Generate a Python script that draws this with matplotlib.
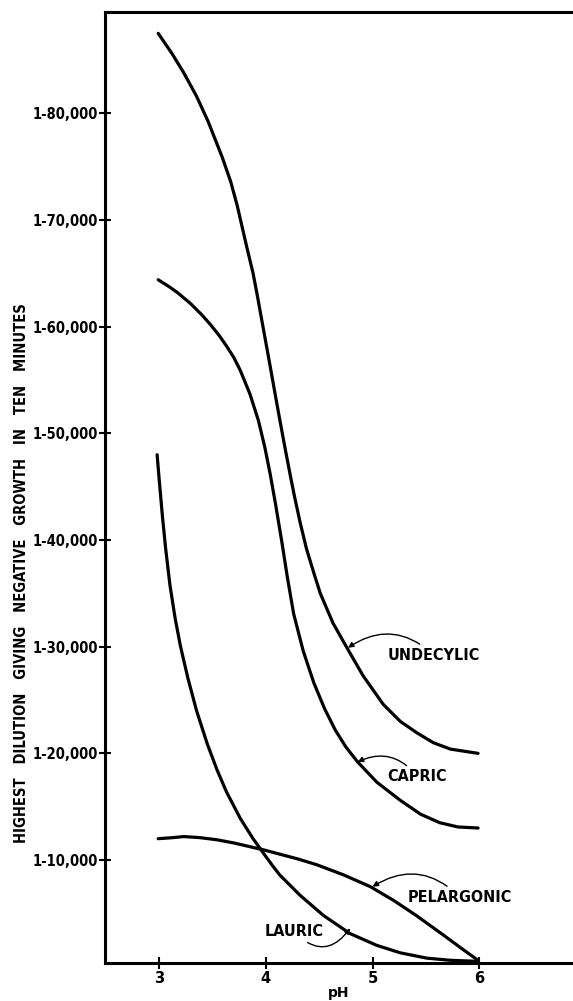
import matplotlib
matplotlib.use("Agg")
import matplotlib.pyplot as plt

plt.rcParams["font.family"] = ["DejaVu Sans"]

# ---- data (pH vs highest dilution, in units of 1,000) ----
undecylic_ph = [2.99, 3.12, 3.23, 3.35, 3.46, 3.59, 3.67, 3.73, 3.82, 3.88, 3.92, 3.98, 4.04, 4.09, 4.13,
                4.18, 4.23, 4.27, 4.32, 4.38, 4.45, 4.51, 4.63, 4.76, 4.91, 5.10, 5.26, 5.42, 5.57, 5.73, 5.99]
undecylic_k = [87.5, 85.6, 83.8, 81.6, 79.2, 75.9, 73.6, 71.4, 67.5, 65.0, 62.9, 59.6, 56.3, 53.5, 51.3,
               48.6, 46.0, 44.0, 41.7, 39.2, 36.9, 35.0, 32.2, 29.9, 27.3, 24.6, 23.0, 21.9, 21.0, 20.4, 20.0]

capric_ph = [2.99, 3.10, 3.17, 3.29, 3.40, 3.48, 3.56, 3.63, 3.70, 3.76, 3.85, 3.93, 3.99, 4.04, 4.09,
             4.15, 4.20, 4.26, 4.35, 4.45, 4.55, 4.65, 4.75, 4.86, 5.04, 5.26, 5.45, 5.63, 5.80, 5.99]
capric_k = [64.4, 63.7, 63.2, 62.2, 61.1, 60.2, 59.2, 58.2, 57.1, 55.9, 53.7, 51.2, 48.7, 46.2, 43.4,
            39.8, 36.6, 33.1, 29.6, 26.6, 24.2, 22.2, 20.6, 19.2, 17.3, 15.6, 14.3, 13.5, 13.1, 13.0]

lauric_ph = [2.98, 3.00, 3.03, 3.06, 3.10, 3.15, 3.20, 3.27, 3.35, 3.45, 3.54, 3.63, 3.76, 3.88,
             3.98, 4.06, 4.13, 4.32, 4.54, 4.79, 5.04, 5.26, 5.51, 5.73, 5.99]
lauric_k = [48.0, 45.6, 42.2, 39.2, 35.8, 32.6, 30.0, 27.0, 24.0, 20.9, 18.5, 16.4, 13.9, 12.0,
            10.6, 9.5, 8.6, 6.7, 4.8, 3.1, 2.0, 1.3, 0.8, 0.6, 0.5]

pelargonic_ph = [2.99, 3.13, 3.23, 3.38, 3.54, 3.70, 3.85, 3.98, 4.13, 4.30, 4.48, 4.73, 4.98,
                 5.20, 5.41, 5.66, 5.85, 5.99]
pelargonic_k = [12.0, 12.1, 12.2, 12.1, 11.9, 11.6, 11.25, 10.95, 10.55, 10.1, 9.55, 8.6, 7.5,
                6.2, 4.8, 3.0, 1.6, 0.6]

x_ticks = [3, 4, 5, 6]
y_ticks = [10000, 20000, 30000, 40000, 50000, 60000, 70000, 80000]
y_tick_labels = ["1-10,000", "1-20,000", "1-30,000", "1-40,000",
                 "1-50,000", "1-60,000", "1-70,000", "1-80,000"]

fig = plt.figure(figsize=(5.73, 10.01), dpi=100)
ax = fig.add_axes([0.183, 0.038, 0.817, 0.950])

series = [(undecylic_ph, undecylic_k), (capric_ph, capric_k),
          (lauric_ph, lauric_k), (pelargonic_ph, pelargonic_k)]
for xs, ks in series:
    ax.plot(xs, [k * 1000 for k in ks], color="black", lw=2.3,
            solid_capstyle="round", solid_joinstyle="round")

ax.set_xlim(2.49, 6.88)
ax.set_ylim(350, 89500)
ax.set_xticks(x_ticks)
ax.set_xticklabels([str(t) for t in x_ticks], fontsize=10.5, fontweight="bold")
ax.set_yticks(y_ticks)
ax.set_yticklabels(y_tick_labels, fontsize=10.5, fontweight="bold", fontstretch="condensed")
ax.tick_params(direction="inout", length=8, width=1.5, pad=1)
ax.tick_params(axis="x", pad=2)

for s in ["left", "bottom", "top"]:
    ax.spines[s].set_linewidth(2.2)
ax.spines["right"].set_visible(False)

ax.set_xlabel("pH", fontsize=10, fontweight="bold", labelpad=0)
ax.set_ylabel("HIGHEST   DILUTION   GIVING   NEGATIVE   GROWTH   IN   TEN   MINUTES",
              fontsize=10.5, fontweight="bold", fontstretch="condensed", labelpad=6)
ax.yaxis.set_label_coords(-0.163, 0.41)

ann_kw = dict(fontsize=11.5, fontweight="bold", fontstretch="condensed", va="center", ha="left")
arrow = dict(arrowstyle="-|>", color="black", lw=1.0, mutation_scale=8,
             connectionstyle="arc3,rad=0.4", shrinkA=1, shrinkB=0)
ax.annotate("UNDECYLIC", xy=(4.77, 29900), xytext=(5.14, 29200), arrowprops=arrow, **ann_kw)
ax.annotate("CAPRIC", xy=(4.86, 19200), xytext=(5.14, 17800), arrowprops=arrow, **ann_kw)
ax.annotate("PELARGONIC", xy=(5.0, 7500), xytext=(5.33, 6500), arrowprops=arrow, **ann_kw)
arrow2 = dict(arrow, connectionstyle="arc3,rad=0.6")
ax.annotate("LAURIC", xy=(4.79, 3600), xytext=(3.99, 3300), arrowprops=arrow2, **ann_kw)

fig.savefig("out.png", dpi=100)
